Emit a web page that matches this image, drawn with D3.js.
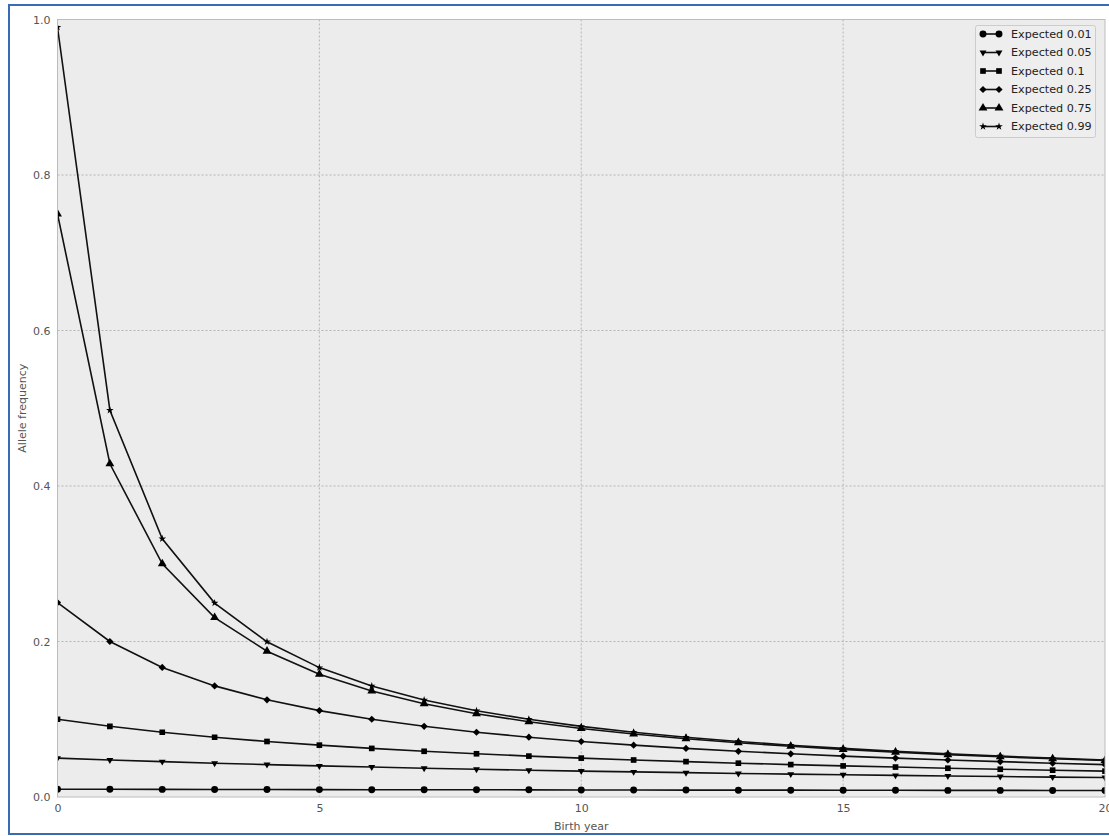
<!DOCTYPE html>
<html>
<head>
<meta charset="utf-8">
<script src="https://cdn.jsdelivr.net/npm/d3@7"></script>
<style>
  html, body { margin: 0; padding: 0; background: #ffffff; }
  svg { display: block; }
  text { font-family: "DejaVu Sans", sans-serif; }
</style>
</head>
<body>
<svg id="chart" width="1109" height="836"></svg>
<script>
// ---- data ----
const years = [0,1,2,3,4,5,6,7,8,9,10,11,12,13,14,15,16,17,18,19,20];
const seriesNames = ["Expected 0.01","Expected 0.05","Expected 0.1","Expected 0.25","Expected 0.75","Expected 0.99"];
const exp001 = [0.0100,0.0099,0.0098,0.0097,0.0096,0.0095,0.0094,0.0093,0.0093,0.0092,0.0091,0.0090,0.0089,0.0088,0.0088,0.0087,0.0086,0.0085,0.0085,0.0084,0.0083];
const exp005 = [0.0500,0.0476,0.0455,0.0435,0.0417,0.0400,0.0385,0.0370,0.0357,0.0345,0.0333,0.0323,0.0313,0.0303,0.0294,0.0286,0.0278,0.0270,0.0263,0.0256,0.0250];
const exp010 = [0.1000,0.0909,0.0833,0.0769,0.0714,0.0667,0.0625,0.0588,0.0556,0.0526,0.0500,0.0476,0.0455,0.0435,0.0417,0.0400,0.0385,0.0370,0.0357,0.0345,0.0333];
const exp025 = [0.2500,0.2000,0.1667,0.1429,0.1250,0.1111,0.1000,0.0909,0.0833,0.0769,0.0714,0.0667,0.0625,0.0588,0.0556,0.0526,0.0500,0.0476,0.0455,0.0435,0.0417];
const exp075 = [0.7500,0.4286,0.3000,0.2308,0.1875,0.1579,0.1364,0.1200,0.1071,0.0968,0.0882,0.0811,0.0750,0.0698,0.0652,0.0612,0.0577,0.0545,0.0517,0.0492,0.0469];
const exp099 = [0.9900,0.4975,0.3322,0.2494,0.1996,0.1664,0.1427,0.1248,0.1110,0.0999,0.0908,0.0833,0.0769,0.0714,0.0666,0.0625,0.0588,0.0555,0.0526,0.0500,0.0476];
const xTicks = [0,5,10,15,20];
const yTicks = [0.0,0.2,0.4,0.6,0.8,1.0];
const xLabel = "Birth year";
const yLabel = "Allele frequency";

const allSeries = [exp001, exp005, exp010, exp025, exp075, exp099];
const markerTypes = [d3.symbolCircle, d3.symbolTriangle2, d3.symbolSquare, d3.symbolSquare, d3.symbolTriangle, d3.symbolStar];
const markerSizes = [38, 34, 32, 26, 34, 18];
const markerRot = [0, 180, 0, 45, 0, 0];
const markerScaleX = [1, 1, 1, 1, 1, 1];

// ---- layout ----
const svg = d3.select("#chart");
const L = 57.5, R = 1105, T = 19.5, B = 797;

// outer blue frame
svg.append("rect").attr("x", 9).attr("y", 5).attr("width", 1109).attr("height", 829)
  .attr("fill", "none").attr("stroke", "#3a6cb4").attr("stroke-width", 2);

const x = d3.scaleLinear().domain([0, 20]).range([L, R]);
const y = d3.scaleLinear().domain([0, 1]).range([B, T]);

// plot background
svg.append("rect").attr("x", L).attr("y", T).attr("width", R - L).attr("height", B - T)
  .attr("fill", "#ececec");

// grid
const gx = svg.append("g");
gx.selectAll("line").data(xTicks.filter(d => d > 0 && d < 20)).join("line")
  .attr("x1", d => x(d)).attr("x2", d => x(d)).attr("y1", T).attr("y2", B)
  .attr("stroke", "#a8a8a8").attr("stroke-width", 0.8).attr("stroke-dasharray", "2,2");
const gy = svg.append("g");
gy.selectAll("line").data(yTicks.filter(d => d > 0 && d < 1)).join("line")
  .attr("y1", d => y(d)).attr("y2", d => y(d)).attr("x1", L).attr("x2", R)
  .attr("stroke", "#a8a8a8").attr("stroke-width", 0.8).attr("stroke-dasharray", "2,2");

// clip
svg.append("clipPath").attr("id", "clip").append("rect")
  .attr("x", L).attr("y", T).attr("width", R - L).attr("height", B - T);

const plot = svg.append("g").attr("clip-path", "url(#clip)");
const line = d3.line().x((d, i) => x(years[i])).y(d => y(d));

allSeries.forEach((vals, si) => {
  plot.append("path").datum(vals).attr("d", line)
    .attr("fill", "none").attr("stroke", "#111").attr("stroke-width", 1.6);
  const sym = d3.symbol().type(markerTypes[si]).size(markerSizes[si]);
  plot.append("g").selectAll("path").data(vals).join("path")
    .attr("d", sym)
    .attr("transform", (d, i) => `translate(${x(years[i])},${y(d)}) rotate(${markerRot[si]}) scale(${markerScaleX[si]},1)`)
    .attr("fill", "#000");
});

// frame
svg.append("rect").attr("x", L).attr("y", T).attr("width", R - L).attr("height", B - T)
  .attr("fill", "none").attr("stroke", "#bcbcbc").attr("stroke-width", 1);

// axes (labels only, no tick marks)
const xAxis = d3.axisBottom(x).tickValues(xTicks).tickFormat(d3.format("d")).tickSize(0).tickPadding(7);
const xg = svg.append("g").attr("transform", `translate(0,${B})`).call(xAxis);
xg.select(".domain").remove();
xg.selectAll("text").attr("fill", "#555").style("font-size", "11px").style("font-family", "DejaVu Sans");

const yAxis = d3.axisLeft(y).tickValues(yTicks).tickFormat(d3.format(".1f")).tickSize(0).tickPadding(7);
const yg = svg.append("g").attr("transform", `translate(${L},0)`).call(yAxis);
yg.select(".domain").remove();
yg.selectAll("text").attr("fill", "#555").style("font-size", "11px").style("font-family", "DejaVu Sans");

svg.append("text").attr("x", (L + R) / 2).attr("y", 830).attr("text-anchor", "middle")
  .attr("fill", "#555").style("font-size", "11px").text(xLabel);
svg.append("text").attr("transform", `translate(26,${(T + B) / 2}) rotate(-90)`).attr("text-anchor", "middle")
  .attr("fill", "#555").style("font-size", "11px").text(yLabel);

// legend
const lg = svg.append("g");
lg.append("rect").attr("x", 975.5).attr("y", 25.5).attr("width", 120).attr("height", 112)
  .attr("rx", 2).attr("fill", "#eeeeee").attr("stroke", "#cccccc").attr("stroke-width", 1);
seriesNames.forEach((name, si) => {
  const cy = 34 + si * 18.5;
  lg.append("line").attr("x1", 983).attr("x2", 999).attr("y1", cy).attr("y2", cy)
    .attr("stroke", "#111").attr("stroke-width", 1.6);
  const sym = d3.symbol().type(markerTypes[si]).size(markerSizes[si]);
  [983, 999].forEach(mx => {
    lg.append("path").attr("d", sym)
      .attr("transform", `translate(${mx},${cy}) rotate(${markerRot[si]}) scale(${markerScaleX[si]},1)`)
      .attr("fill", "#000");
  });
  lg.append("text").attr("x", 1011).attr("y", cy).attr("dy", "0.35em")
    .attr("fill", "#222").style("font-size", "11.2px").text(name);
});
</script>
</body>
</html>
